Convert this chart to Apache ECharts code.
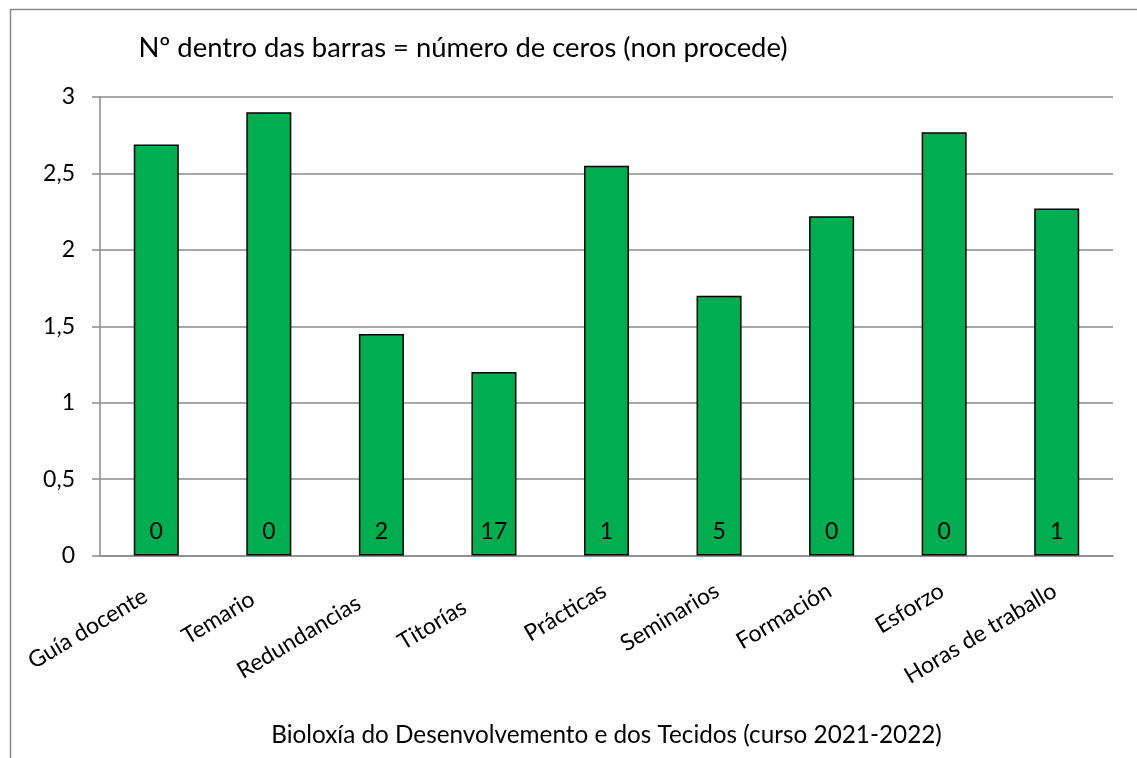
<!DOCTYPE html>
<html>
<head>
<meta charset="utf-8">
<script src="https://cdn.jsdelivr.net/npm/echarts@6/dist/echarts.min.js"></script>
<style>
  html, body { margin: 0; padding: 0; background: #fff; }
  #chart { width: 1137px; height: 758px; }
</style>
</head>
<body>
<div id="chart"></div>
<script>
// Survey items (x axis)
const categories = ['Guía docente', 'Temario', 'Redundancias', 'Titorías', 'Prácticas',
                    'Seminarios', 'Formación', 'Esforzo', 'Horas de traballo'];
// Mean score per item
const scores = [2.69, 2.90, 1.45, 1.20, 2.55, 1.70, 2.22, 2.77, 2.27];
// Number of "non procede" answers, printed inside each bar
const zeroCounts = [0, 0, 2, 17, 1, 5, 0, 0, 1];
// Value axis ticks
const yTicks = [0, 0.5, 1, 1.5, 2, 2.5, 3];

const FONT = 'Lato, "Open Sans", sans-serif';
const LABEL_ANGLE = 31;
// Horizontal nudge (px, leftwards) for each rotated category label
const labelNudge = [15, 22, 31, 40, 3, 3, 3, 3, 3];

function categoryItem(name, i) {
  const d = labelNudge[i];
  const rad = LABEL_ANGLE * Math.PI / 180;
  // move the rotated text left on screen: back along its baseline and up across it
  return {
    value: name,
    textStyle: { padding: [0, d * Math.cos(rad), 2 * d * Math.sin(rad), 0] }
  };
}

const chart = echarts.init(document.getElementById('chart'), null, { renderer: 'canvas' });

chart.setOption({
  animation: false,
  backgroundColor: '#ffffff',
  graphic: [{
    type: 'rect',
    left: 8, top: 7,
    shape: { width: 1300, height: 900 },
    style: { fill: 'none', stroke: '#8a8a8a', lineWidth: 1.5 },
    silent: true
  }],
  title: {
    text: 'Nº dentro das barras = número de ceros (non procede)',
    left: 458, top: 30,
    textAlign: 'center',
    textStyle: { fontFamily: FONT, fontSize: 27.4, fontWeight: 'normal', color: '#000' }
  },
  grid: {
    left: 100, right: 24, top: 97, bottom: 202.5,
    containLabel: false, outerBoundsMode: 'none'
  },
  xAxis: {
    type: 'category',
    data: categories.map(categoryItem),
    name: 'Bioloxía do Desenvolvemento e dos Tecidos (curso 2021-2022)',
    nameLocation: 'middle',
    nameGap: 168,
    nameTextStyle: { fontFamily: FONT, fontSize: 24.3, color: '#000' },
    axisLine: { show: true, lineStyle: { color: '#8a8a8a', width: 1.5 } },
    axisTick: { show: false },
    axisLabel: {
      interval: 0, rotate: LABEL_ANGLE, margin: 32,
      fontFamily: FONT, fontSize: 23, color: '#000'
    },
    splitLine: { show: false }
  },
  yAxis: {
    type: 'value',
    min: yTicks[0], max: yTicks[yTicks.length - 1], interval: 0.5,
    axisLine: { show: true, lineStyle: { color: '#8a8a8a', width: 1.5 } },
    axisTick: { show: true, inside: false, length: 8, lineStyle: { color: '#8a8a8a', width: 1.5 } },
    axisLabel: {
      margin: 25, fontFamily: FONT, fontSize: 23, color: '#000',
      formatter: v => String(v).replace('.', ',')
    },
    splitLine: { show: true, lineStyle: { color: '#8a8a8a', width: 1.5 } }
  },
  series: [{
    type: 'bar',
    data: scores,
    barWidth: '40%',
    itemStyle: { color: '#00AE4F', borderColor: '#000', borderWidth: 1.5 },
    label: {
      show: true,
      position: 'insideBottom',
      distance: 12,
      fontFamily: FONT, fontSize: 23, color: '#000',
      formatter: p => String(zeroCounts[p.dataIndex])
    }
  }]
});
</script>
</body>
</html>
